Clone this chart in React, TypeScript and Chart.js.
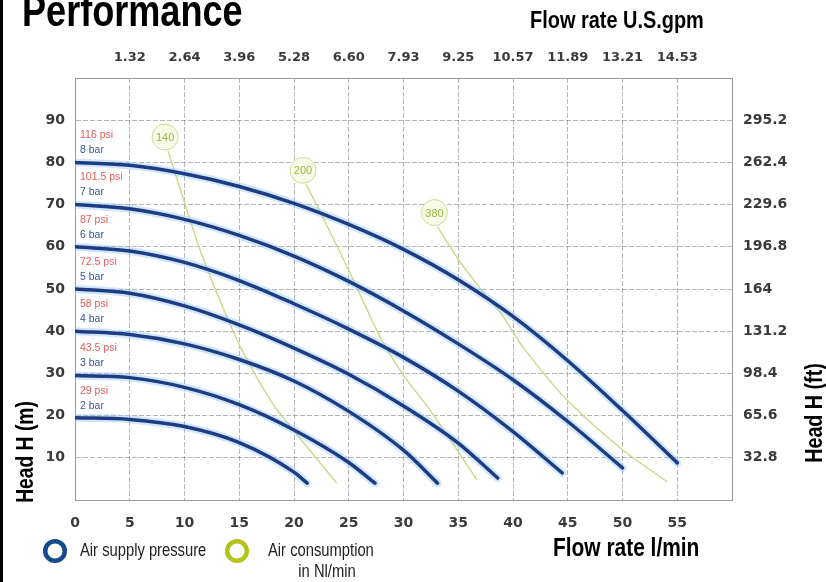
import React, { useEffect, useRef } from 'react';
import { Chart, registerables } from 'chart.js';

Chart.register(...registerables);

// ---- tick labels ----
const gpmLabels = ['1.32', '2.64', '3.96', '5.28', '6.60', '7.93', '9.25', '10.57', '11.89', '13.21', '14.53'];
const ftLabels = ['32.8', '65.6', '98.4', '131.2', '164', '196.8', '229.6', '262.4', '295.2'];

// ---- air supply pressure curves (flow l/min, head m) ----
const bar8Flow = [0, 5, 10, 15, 20, 25, 30, 35, 40, 45, 50, 55];
const bar8Head = [80, 79.3, 77.3, 74.3, 70.3, 65.3, 59.4, 52.2, 43.5, 33, 21.2, 8.8];
const bar7Flow = [0, 5, 10, 15, 20, 25, 30, 35, 40, 45, 50];
const bar7Head = [70, 69, 66.5, 62.7, 57.8, 51.8, 44.8, 37, 28.5, 18.6, 7.6];
const bar6Flow = [0, 5, 10, 15, 20, 25, 30, 35, 40, 44.5];
const bar6Head = [60, 59, 56.3, 52, 46.5, 40.5, 33.8, 25.8, 16.2, 6.4];
const bar5Flow = [0, 5, 10, 15, 20, 25, 30, 35, 38.6];
const bar5Head = [50, 49, 46, 41.5, 36, 29.8, 22.3, 13.5, 5.2];
const bar4Flow = [0, 5, 10, 15, 20, 25, 30, 33.1];
const bar4Head = [40, 39.2, 37, 33.3, 28.2, 21, 11.8, 4];
const bar3Flow = [0, 5, 10, 15, 20, 25, 27.4];
const bar3Head = [29.5, 29, 26.7, 22.6, 16.6, 8.9, 4];
const bar2Flow = [0, 5, 10, 15, 20, 21.2];
const bar2Head = [19.5, 19.1, 17.4, 13.6, 6.6, 4];

const barLabels = ['8 bar', '7 bar', '6 bar', '5 bar', '4 bar', '3 bar', '2 bar'];
const psiLabels = ['116 psi', '101.5 psi', '87 psi', '72.5 psi', '58 psi', '43.5 psi', '29 psi'];

// ---- air consumption lines (Nl/min) ----
const air140Flow = [8.5, 9.9, 11.4, 13.2, 15.1, 17.8, 19.4, 23.9];
const air140Head = [82.7, 71.3, 59.4, 47.5, 36.3, 23.8, 18.3, 4];
const air200Flow = [21.1, 22.6, 25.1, 28, 30.1, 32.4, 36.7];
const air200Head = [74.8, 67.2, 53.9, 38, 29.2, 21.4, 4.8];
const air380Flow = [33.1, 35.2, 37.6, 39.1, 40.9, 44.9, 50, 54.1];
const air380Head = [64.8, 56.3, 48.2, 43.5, 36.3, 23.8, 11.9, 4.3];
const airLabels = ['140', '200', '380'];

const pressureCurves = [
  { flow: bar8Flow, head: bar8Head },
  { flow: bar7Flow, head: bar7Head },
  { flow: bar6Flow, head: bar6Head },
  { flow: bar5Flow, head: bar5Head },
  { flow: bar4Flow, head: bar4Head },
  { flow: bar3Flow, head: bar3Head },
  { flow: bar2Flow, head: bar2Head },
];
const airCurves = [
  { flow: air140Flow, head: air140Head },
  { flow: air200Flow, head: air200Head },
  { flow: air380Flow, head: air380Head },
];

const toPts = (f: number[], h: number[]) => f.map((v, i) => ({ x: v, y: h[i] }));

const SANS = '"Liberation Sans", Arial, sans-serif';
const TICKFONT = '"DejaVu Sans", Verdana, sans-serif';
const BLUE = '#1d3c82';
const GREEN_LINE = '#cbd88a';

// draw text with a horizontally condensed sans (emulates a narrow face)
function narrowText(
  ctx: CanvasRenderingContext2D,
  text: string,
  x: number,
  y: number,
  size: number,
  weight: string,
  align: CanvasTextAlign,
  rotate = 0,
) {
  ctx.save();
  ctx.translate(x, y);
  if (rotate) ctx.rotate(rotate);
  ctx.scale(0.82, 1);
  ctx.font = `${weight} ${size}px ${SANS}`;
  ctx.textAlign = align;
  ctx.textBaseline = 'alphabetic';
  ctx.fillText(text, 0, 0);
  ctx.restore();
}

const overlay = {
  id: 'overlay',
  afterDatasetsDraw(chart: any) {
    const { ctx, scales } = chart;
    const x = scales.x;
    const y = scales.y;
    ctx.save();
    // pressure labels
    ctx.textAlign = 'left';
    ctx.textBaseline = 'middle';
    ctx.font = `10.5px ${SANS}`;
    pressureCurves.forEach((c, i) => {
      const px = x.getPixelForValue(0) + 5;
      const py = y.getPixelForValue(c.head[0]);
      ctx.fillStyle = '#e0605a';
      ctx.fillText(psiLabels[i], px, py - 27);
      ctx.fillStyle = '#34579a';
      ctx.fillText(barLabels[i], px, py - 12);
    });
    // consumption bubbles
    airCurves.forEach((c, i) => {
      const px = x.getPixelForValue(c.flow[0]) - 3;
      const py = y.getPixelForValue(c.head[0]) - 14;
      ctx.beginPath();
      ctx.arc(px, py, 13, 0, Math.PI * 2);
      ctx.fillStyle = '#f7fae6';
      ctx.fill();
      ctx.lineWidth = 1;
      ctx.strokeStyle = '#cfdc95';
      ctx.stroke();
      ctx.fillStyle = '#9cb740';
      ctx.font = `11px ${SANS}`;
      ctx.textAlign = 'center';
      ctx.textBaseline = 'middle';
      ctx.fillText(airLabels[i], px, py + 1);
    });
    ctx.restore();
  },
  afterDraw(chart: any) {
    const { ctx } = chart;
    ctx.save();
    // left frame line
    ctx.fillStyle = '#000';
    ctx.fillRect(0, 0, 3, 582);
    // titles
    ctx.fillStyle = '#000';
    narrowText(ctx, 'Performance', 22, 26, 44, 'bold', 'left');
    narrowText(ctx, 'Flow rate U.S.gpm', 530, 28, 24.3, 'bold', 'left');
    narrowText(ctx, 'Flow rate l/min', 553, 556, 25.5, 'bold', 'left');
    narrowText(ctx, 'Head H (m)', 33, 452, 23.5, 'bold', 'center', -Math.PI / 2);
    narrowText(ctx, 'Head H (ft)', 822, 413, 24, 'bold', 'center', -Math.PI / 2);
    // legend
    ctx.lineWidth = 4.5;
    ctx.strokeStyle = '#174a8c';
    ctx.beginPath();
    ctx.arc(55, 551, 9.8, 0, Math.PI * 2);
    ctx.stroke();
    ctx.strokeStyle = '#b4c31b';
    ctx.beginPath();
    ctx.arc(237, 551, 9.8, 0, Math.PI * 2);
    ctx.stroke();
    ctx.fillStyle = '#222';
    narrowText(ctx, 'Air supply pressure', 80, 556, 18, 'normal', 'left');
    narrowText(ctx, 'Air consumption', 268, 556, 18, 'normal', 'left');
    narrowText(ctx, 'in Nl/min', 327, 577, 18, 'normal', 'center');
    ctx.restore();
  },
};

export default function App() {
  const ref = useRef<HTMLCanvasElement | null>(null);

  useEffect(() => {
    if (!ref.current) return;
    const blueSets = pressureCurves.map((c) => ({
      data: toPts(c.flow, c.head),
      borderColor: BLUE,
      borderWidth: 3.5,
      borderCapStyle: 'round',
      pointRadius: 0,
      fill: false,
      cubicInterpolationMode: 'monotone',
    }));
    const haloSets = pressureCurves.map((c) => ({
      data: toPts(c.flow, c.head),
      borderColor: 'rgba(150,200,245,0.45)',
      borderWidth: 8,
      borderCapStyle: 'round',
      pointRadius: 0,
      fill: false,
      cubicInterpolationMode: 'monotone',
    }));
    const greenSets = airCurves.map((c) => ({
      data: toPts(c.flow, c.head),
      borderColor: GREEN_LINE,
      borderWidth: 1.4,
      pointRadius: 0,
      fill: false,
      tension: 0.3,
    }));

    const tickFont = { family: TICKFONT, weight: 'bold' as const, size: 14 };
    const gridOpts = { color: 'rgba(110,110,110,0.5)', drawTicks: false, lineWidth: 1 };
    const borderOpts = { display: true, color: '#9a9a9a', width: 1, dash: [5, 2] };

    const chart = new Chart(ref.current, {
      type: 'line',
      data: { datasets: [...blueSets, ...haloSets, ...greenSets] as any },
      options: {
        animation: false,
        responsive: false,
        devicePixelRatio: 1,
        events: [],
        layout: { padding: 0 },
        plugins: { legend: { display: false }, tooltip: { enabled: false } },
        scales: {
          x: {
            type: 'linear',
            position: 'bottom',
            min: 0,
            max: 60,
            afterFit: (s: any) => { s.height = 82; },
            ticks: {
              stepSize: 5,
              padding: 15,
              autoSkip: false,
              maxRotation: 0,
              color: '#3a3a3a',
              font: tickFont,
              callback: (v: any) => (Math.round(v) === 60 ? '' : String(Math.round(v))),
            },
            grid: gridOpts,
            border: borderOpts,
          },
          x2: {
            type: 'linear',
            position: 'top',
            min: 0,
            max: 60,
            afterFit: (s: any) => { s.height = 78; },
            ticks: {
              stepSize: 5,
              padding: 13,
              autoSkip: false,
              maxRotation: 0,
              color: '#3a3a3a',
              font: { ...tickFont, size: 13 },
              callback: (v: any) => gpmLabels[Math.round(v) / 5 - 1] ?? '',
            },
            grid: { display: false, drawTicks: false },
            border: { display: true, color: '#9a9a9a', width: 1 },
          },
          y: {
            type: 'linear',
            position: 'left',
            min: 0,
            max: 100,
            afterFit: (s: any) => { s.width = 75; },
            ticks: {
              stepSize: 10,
              padding: 10,
              autoSkip: false,
              color: '#3a3a3a',
              font: tickFont,
              callback: (v: any) => {
                const r = Math.round(v);
                return r === 0 || r === 100 ? '' : String(r);
              },
            },
            grid: gridOpts,
            border: borderOpts,
          },
          y2: {
            type: 'linear',
            position: 'right',
            min: 0,
            max: 100,
            afterFit: (s: any) => { s.width = 94; },
            ticks: {
              stepSize: 10,
              padding: 11,
              autoSkip: false,
              color: '#3a3a3a',
              font: tickFont,
              callback: (v: any) => ftLabels[Math.round(v) / 10 - 1] ?? '',
            },
            grid: { display: false, drawTicks: false },
            border: { display: true, color: '#9a9a9a', width: 1 },
          },
        },
      } as any,
      plugins: [overlay],
    });
    return () => chart.destroy();
  }, []);

  return (
    <div style={{ position: 'fixed', left: 0, top: 0, width: 826, height: 582, background: '#fff', overflow: 'hidden' }}>
      <canvas ref={ref} width={826} height={582} style={{ display: 'block', width: 826, height: 582 }} />
    </div>
  );
}
